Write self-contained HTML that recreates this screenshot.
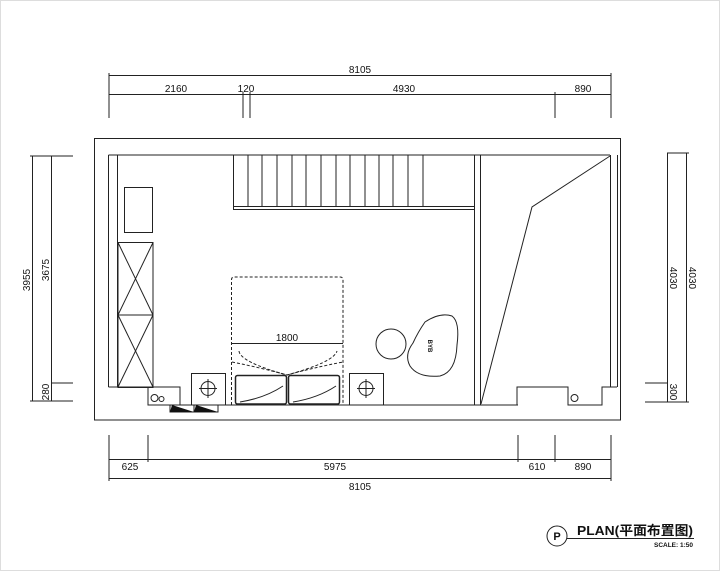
<!DOCTYPE html>
<html><head><meta charset="utf-8"><style>
html,body{margin:0;padding:0;background:#fff}
svg{display:block}
text{font-family:"Liberation Sans","Noto Sans CJK SC",sans-serif;fill:#111}
</style></head><body>
<svg width="720" height="571" viewBox="0 0 720 571" xmlns="http://www.w3.org/2000/svg">
<rect x="0.5" y="0.5" width="719" height="570" fill="#fff" stroke="#ddd"/>
<g stroke="#222" stroke-width="1" fill="none">
<line x1="109" y1="75.5" x2="611" y2="75.5"/>
<line x1="109" y1="94.5" x2="611" y2="94.5"/>
<line x1="109" y1="73" x2="109" y2="118"/>
<line x1="611" y1="73" x2="611" y2="118"/>
<line x1="243" y1="92" x2="243" y2="118"/>
<line x1="250" y1="92" x2="250" y2="118"/>
<line x1="555" y1="92" x2="555" y2="118"/>
<rect x="94.5" y="138.5" width="526" height="281.5"/>
<line x1="108.5" y1="155" x2="610" y2="155"/>
<line x1="108.5" y1="155" x2="108.5" y2="387"/>
<line x1="117.5" y1="155" x2="117.5" y2="387"/>
<line x1="108.5" y1="387" x2="148" y2="387"/>
<line x1="610.5" y1="155" x2="610.5" y2="387"/>
<line x1="617.5" y1="155" x2="617.5" y2="387"/>
<line x1="233.5" y1="155" x2="233.5" y2="209"/>
<line x1="233" y1="206.5" x2="474" y2="206.5"/>
<line x1="233" y1="209.5" x2="474" y2="209.5"/>
<g>
<line x1="248" y1="155" x2="248" y2="206"/><line x1="262" y1="155" x2="262" y2="206"/>
<line x1="277" y1="155" x2="277" y2="206"/><line x1="292" y1="155" x2="292" y2="206"/>
<line x1="306" y1="155" x2="306" y2="206"/><line x1="321" y1="155" x2="321" y2="206"/>
<line x1="336" y1="155" x2="336" y2="206"/><line x1="350" y1="155" x2="350" y2="206"/>
<line x1="365" y1="155" x2="365" y2="206"/><line x1="379" y1="155" x2="379" y2="206"/>
<line x1="393" y1="155" x2="393" y2="206"/><line x1="408" y1="155" x2="408" y2="206"/>
<line x1="423" y1="155" x2="423" y2="206"/>
</g>
<line x1="474.5" y1="155" x2="474.5" y2="405"/>
<line x1="480.5" y1="155" x2="480.5" y2="405"/>
<rect x="124.5" y="187.5" width="28" height="45"/>
<rect x="118" y="242.5" width="35" height="145"/>
<line x1="118" y1="315" x2="153" y2="315"/>
<line x1="118" y1="242.5" x2="153" y2="315"/><line x1="153" y1="242.5" x2="118" y2="315"/>
<line x1="118" y1="315" x2="153" y2="387"/><line x1="153" y1="315" x2="118" y2="387"/>
<polyline points="148,387 180,387 180,405 148,405 148,387"/>
<line x1="148" y1="405" x2="518" y2="405"/>
<circle cx="154.5" cy="398" r="3.5"/><circle cx="161.5" cy="399" r="2.5"/>
<rect x="191.5" y="373.5" width="34" height="31.5"/>
<circle cx="208" cy="388.5" r="7"/>
<line x1="208" y1="379" x2="208" y2="398"/><line x1="199" y1="388.5" x2="217" y2="388.5"/>
<rect x="349.5" y="373.5" width="34" height="31.5"/>
<circle cx="366" cy="388.5" r="7"/>
<line x1="366" y1="379" x2="366" y2="398"/><line x1="357" y1="388.5" x2="375" y2="388.5"/>
<path d="M231.5 405 V280 Q231.5 277 234 277 H340 Q343 277 343 280 V405" stroke-dasharray="3,2"/>
<line x1="231.5" y1="343.5" x2="343" y2="343.5"/>
<path d="M232 362 Q262 368 287 375 Q312 368 343 362" stroke-dasharray="3,2"/>
<path d="M239 351 Q240 362 287 375 Q334 362 337 351" stroke-dasharray="3,2"/>
<rect x="235.5" y="375.5" width="51" height="28.5" rx="2" stroke-width="1.5"/>
<rect x="288.5" y="375.5" width="51" height="28.5" rx="2" stroke-width="1.5"/>
<path d="M240 402 Q265 398 283 386"/><path d="M293 402 Q318 398 336 386"/>
<circle cx="391" cy="344" r="15"/>
<path d="M425 322 Q440 312 452 316 Q460 322 457 345 Q456 372 440 376 Q418 378 410 366 Q404 355 413 343 Q418 332 425 322 Z"/>
<polyline points="480,405 517,405 517,387 568,387 568,405 602,405 602,387 617,387"/>
<circle cx="574.5" cy="398" r="3.5"/>
<polyline points="481,404 532,207 610,156"/>
<line x1="32.5" y1="156" x2="32.5" y2="401"/>
<line x1="51.5" y1="156" x2="51.5" y2="401"/>
<line x1="30" y1="156" x2="73" y2="156"/>
<line x1="52" y1="383" x2="73" y2="383"/>
<line x1="30" y1="401" x2="73" y2="401"/>
<line x1="667.5" y1="153" x2="667.5" y2="402"/>
<line x1="686.5" y1="153" x2="686.5" y2="402"/>
<line x1="667" y1="153" x2="689" y2="153"/>
<line x1="645" y1="383" x2="667" y2="383"/>
<line x1="645" y1="402" x2="689" y2="402"/>
<line x1="109" y1="459.5" x2="611" y2="459.5"/>
<line x1="109" y1="478.5" x2="611" y2="478.5"/>
<line x1="109" y1="435" x2="109" y2="481"/>
<line x1="611" y1="435" x2="611" y2="481"/>
<line x1="148" y1="435" x2="148" y2="462"/>
<line x1="518" y1="435" x2="518" y2="462"/>
<line x1="555" y1="435" x2="555" y2="462"/>
<circle cx="557" cy="536" r="10"/>
<line x1="567" y1="538.5" x2="694" y2="538.5"/>
</g>
<polygon points="170,405 194,405 194,412 170,412" fill="#fff" stroke="#222"/>
<polygon points="172,405 194,412 170,412" fill="#111"/>
<polygon points="194,405 218,405 218,412 194,412" fill="#fff" stroke="#222"/>
<polygon points="196,405 218,412 194,412" fill="#111"/>
<g font-size="10" text-anchor="middle">
<text x="360" y="73">8105</text>
<text x="176" y="92">2160</text>
<text x="246" y="92">120</text>
<text x="404" y="92">4930</text>
<text x="583" y="92">890</text>
<text x="287" y="341">1800</text>
<text x="130" y="470">625</text>
<text x="335" y="470">5975</text>
<text x="537" y="470">610</text>
<text x="583" y="470">890</text>
<text x="360" y="490">8105</text>
<text transform="translate(30,280) rotate(-90)">3955</text>
<text transform="translate(49,270) rotate(-90)">3675</text>
<text transform="translate(49,392) rotate(-90)">280</text>
<text transform="translate(670,278) rotate(90)">4030</text>
<text transform="translate(689,278) rotate(90)">4030</text>
<text transform="translate(670,392) rotate(90)">300</text>
<text transform="translate(428,346) rotate(90)" font-size="6" font-weight="bold">BYB</text>
</g>
<text x="557" y="540" font-size="11" font-weight="bold" text-anchor="middle">P</text>
<text x="577" y="535" font-size="13" font-weight="bold" textLength="116" lengthAdjust="spacingAndGlyphs">PLAN(平面布置图)</text>
<text x="693" y="547" font-size="6.5" font-weight="bold" text-anchor="end">SCALE: 1:50</text>
</svg>
</body></html>
